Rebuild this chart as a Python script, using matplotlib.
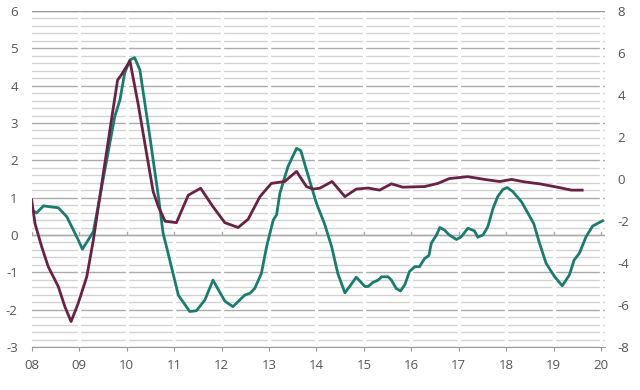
import numpy as np
import matplotlib.pyplot as plt

plt.rcParams['axes.unicode_minus'] = False

# teal series, left axis
teal_x = [2008.0, 2008.1, 2008.25, 2008.42, 2008.56, 2008.74, 2008.98, 2009.07, 2009.3,
          2009.58, 2009.75, 2009.86, 2009.96, 2010.07, 2010.17, 2010.28, 2010.49, 2010.67,
          2010.77, 2010.84, 2011.09, 2011.33, 2011.47, 2011.65, 2011.82, 2012.07, 2012.24,
          2012.49, 2012.6, 2012.7, 2012.84, 2012.95, 2013.09, 2013.16, 2013.23, 2013.4,
          2013.58, 2013.67, 2013.79, 2014.0, 2014.17, 2014.32, 2014.45, 2014.6, 2014.7,
          2014.84, 2015.02, 2015.09, 2015.19, 2015.3, 2015.37, 2015.51, 2015.58, 2015.68,
          2015.77, 2015.86, 2015.96, 2016.07, 2016.17, 2016.28, 2016.37, 2016.42, 2016.53,
          2016.6, 2016.7, 2016.8, 2016.95, 2017.05, 2017.19, 2017.33, 2017.4, 2017.51,
          2017.61, 2017.72, 2017.82, 2017.93, 2018.02, 2018.14, 2018.32, 2018.45, 2018.58,
          2018.7, 2018.84, 2019.02, 2019.18, 2019.33, 2019.43, 2019.54, 2019.68, 2019.82,
          2020.03]
teal_y = [0.67, 0.59, 0.78, 0.75, 0.73, 0.49, -0.13, -0.38, 0.09,
          2.0, 3.17, 3.62, 4.34, 4.69, 4.75, 4.42, 2.63, 1.03,
          0.04, -0.31, -1.61, -2.05, -2.03, -1.74, -1.21, -1.77, -1.92,
          -1.61, -1.56, -1.43, -1.03, -0.31, 0.4, 0.54, 1.12, 1.83,
          2.32, 2.26, 1.74, 0.85, 0.3, -0.31, -1.03, -1.55, -1.38,
          -1.13, -1.38, -1.38, -1.27, -1.21, -1.12, -1.12, -1.21, -1.43,
          -1.5, -1.34, -0.98, -0.85, -0.85, -0.63, -0.55, -0.22, 0.0,
          0.2, 0.13, 0.0, -0.12, -0.05, 0.18, 0.11, -0.06, 0.0,
          0.22, 0.71, 1.03, 1.22, 1.27, 1.16, 0.89, 0.6, 0.3,
          -0.22, -0.76, -1.12, -1.36, -1.07, -0.67, -0.49, -0.05, 0.24,
          0.38]

# maroon series, right axis
maroon_x = [2008.0, 2008.07, 2008.21, 2008.35, 2008.56, 2008.7, 2008.83, 2008.98, 2009.16,
            2009.3, 2009.51, 2009.68, 2009.81, 2009.89, 2010.07, 2010.24, 2010.42, 2010.56,
            2010.67, 2010.81, 2011.05, 2011.3, 2011.56, 2011.82, 2012.07, 2012.35, 2012.56,
            2012.81, 2013.05, 2013.33, 2013.58, 2013.79, 2013.93, 2014.07, 2014.33, 2014.6,
            2014.84, 2015.09, 2015.33, 2015.58, 2015.82, 2016.28, 2016.56, 2016.8, 2017.19,
            2017.54, 2017.86, 2018.11, 2018.39, 2018.7, 2019.12, 2019.37, 2019.6]
maroon_y = [-1.0, -2.12, -3.22, -4.18, -5.12, -6.08, -6.79, -5.92, -4.66,
            -2.9, 0.27, 2.81, 4.71, 4.96, 5.62, 3.61, 1.23, -0.6,
            -1.32, -2.01, -2.08, -0.77, -0.44, -1.32, -2.08, -2.31, -1.92,
            -0.84, -0.21, -0.12, 0.36, -0.36, -0.48, -0.44, -0.12, -0.84,
            -0.48, -0.43, -0.53, -0.23, -0.39, -0.36, -0.21, 0.02, 0.11,
            -0.02, -0.12, -0.02, -0.14, -0.23, -0.41, -0.53, -0.53]

years = list(range(2008, 2021))
year_labels = ['%02d' % (y % 100) for y in years]

teal = '#1b7b6f'
maroon = '#682243'
txt = '#555555'

fig = plt.figure(figsize=(6.4, 3.9), dpi=100)
ax = fig.add_axes([0.0495, 0.1103, 0.8958, 0.8615])
ax.set_xlim(2008, 2020.08)
ax.set_ylim(-3, 6)

# broken horizontal grid
for v in np.arange(-3, 6.01, 0.2):
    v = round(v, 1)
    major = abs(v - round(v)) < 1e-6
    ax.axhline(v, color='#aaaaaa' if major else '#d2d2d2', lw=1.0, zorder=1)
for y in years[1:]:
    ax.axvline(y, color='white', lw=2.4, zorder=2)
ax.axhline(6, color='#999999', lw=1.0, zorder=2.5)
ax.axhline(0, color='#aaaaaa', lw=1.0, zorder=2.5)
for y in years:
    ax.plot([y, y], [0, 0.07], color='#aaaaaa', lw=1, zorder=2.5)

ax.plot(teal_x, teal_y, color=teal, lw=2.0, zorder=4, solid_joinstyle='round')

for s in ['top', 'right', 'left']:
    ax.spines[s].set_visible(False)
ax.spines['bottom'].set_position(('data', -3))
ax.spines['bottom'].set_color('#999999')
ax.spines['bottom'].set_zorder(3)
ax.set_xticks(years)
ax.set_xticklabels(year_labels)
ax.set_yticks(range(-3, 7))
ax.tick_params(axis='x', length=3, color='#999999', pad=6, labelsize=9.5, labelcolor=txt)
ax.tick_params(axis='y', length=0, pad=10, labelsize=9.5, labelcolor=txt)

ax2 = ax.twinx()
ax2.set_ylim(-8, 8)
ax2.set_yticks(range(-8, 9, 2))
ax2.plot(maroon_x, maroon_y, color=maroon, lw=2.0, zorder=4, solid_joinstyle='round')
for s in ax2.spines.values():
    s.set_visible(False)
ax2.tick_params(axis='y', length=0, pad=9, labelsize=9.5, labelcolor=txt)

for t in ax.get_xticklabels() + ax.get_yticklabels() + ax2.get_yticklabels():
    t.set_fontfamily('Open Sans')

fig.savefig('out.png', dpi=100)
